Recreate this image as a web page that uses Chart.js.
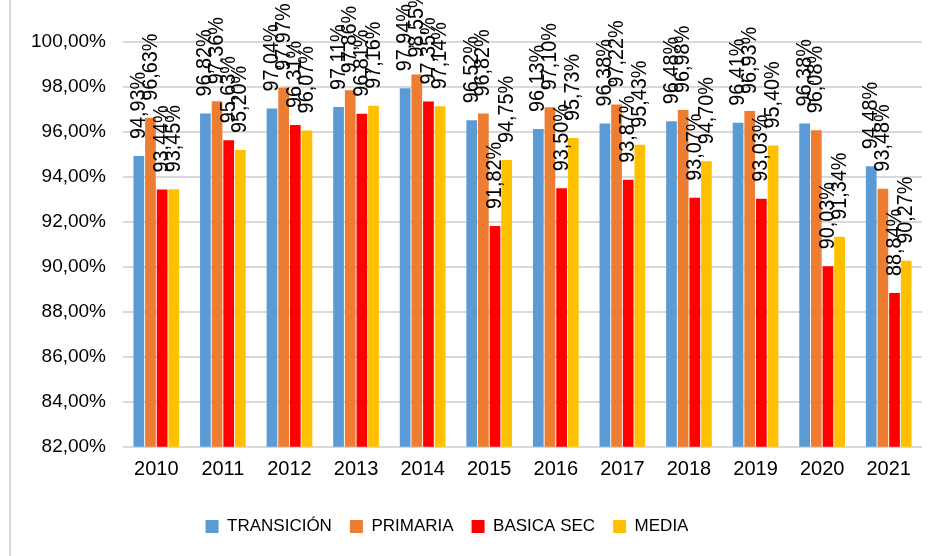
<!DOCTYPE html>
<html>
<head>
<meta charset="utf-8">
<script src="https://cdn.jsdelivr.net/npm/chart.js@4/dist/chart.umd.min.js"></script>
<style>
  html, body { margin: 0; padding: 0; background: #fff; }
  #wrap { position: relative; width: 935px; height: 556px; }
  #edge { position: absolute; left: 9px; top: 0; width: 2px; height: 556px; background: #d9d9d9; }
</style>
</head>
<body>
<div id="wrap">
  <div id="edge"></div>
  <canvas id="chart" width="935" height="556"></canvas>
</div>
<script>
const years = ["2010", "2011", "2012", "2013", "2014", "2015", "2016", "2017", "2018", "2019", "2020", "2021"];
const transicion = [94.93, 96.82, 97.04, 97.11, 97.94, 96.52, 96.13, 96.38, 96.48, 96.41, 96.38, 94.48];
const primaria = [96.63, 97.36, 97.97, 97.86, 98.55, 96.82, 97.10, 97.22, 96.98, 96.93, 96.08, 93.48];
const basicaSec = [93.44, 95.63, 96.31, 96.81, 97.35, 91.82, 93.50, 93.87, 93.07, 93.03, 90.03, 88.84];
const media = [93.45, 95.20, 96.07, 97.16, 97.14, 94.75, 95.73, 95.43, 94.70, 95.40, 91.34, 90.27];

const fontFamily = "'Liberation Sans', Arial, sans-serif";
const pct = v => v.toFixed(2).replace(".", ",") + "%";

// vertical value labels above every bar (a bit condensed, like the original)
const barLabels = {
    id: "barLabels",
    afterDatasetsDraw(chart) {
        const ctx = chart.ctx;
        ctx.save();
        ctx.fillStyle = "#000";
        ctx.font = "22px " + fontFamily;
        ctx.textAlign = "left";
        ctx.textBaseline = "middle";
        chart.data.datasets.forEach((ds, i) => {
            chart.getDatasetMeta(i).data.forEach((bar, j) => {
                ctx.save();
                ctx.translate(bar.x, bar.y - 17);
                ctx.rotate(-Math.PI / 2);
                ctx.scale(0.9, 1);
                ctx.fillText(pct(ds.data[j]), 0, 0);
                ctx.restore();
            });
        });
        ctx.restore();
    },
};

// the legend row sits a little left of centre in the original
const legendShift = {
    id: "legendShift",
    afterLayout(chart) {
        chart.legend.left -= 21;
        chart.legend.right -= 21;
    },
};

new Chart(document.getElementById("chart"), {
    type: "bar",
    data: {
        labels: years,
        datasets: [
            { label: "TRANSICIÓN", data: transicion, backgroundColor: "#5B9BD5" },
            { label: "PRIMARIA", data: primaria, backgroundColor: "#ED7D31" },
            { label: "BASICA SEC", data: basicaSec, backgroundColor: "#FF0000" },
            { label: "MEDIA", data: media, backgroundColor: "#FFC000" },
        ],
    },
    options: {
        responsive: false,
        animation: false,
        layout: { padding: { top: 42, right: 13, left: 14, bottom: 11 } },
        datasets: { bar: { categoryPercentage: 0.7, barPercentage: 0.92 } },
        scales: {
            x: {
                grid: { display: false },
                border: { display: false },
                ticks: { color: "#000", font: { family: fontFamily, size: 20 } },
            },
            y: {
                min: 82,
                max: 100,
                border: { display: false },
                grid: { color: "#d9d9d9", lineWidth: 2, drawTicks: false },
                ticks: {
                    stepSize: 2,
                    padding: 17,
                    color: "#000",
                    font: { family: fontFamily, size: 19 },
                    callback: v => pct(v),
                },
            },
        },
        plugins: {
            tooltip: { enabled: false },
            legend: {
                position: "bottom",
                // empty title only to open space above the legend row
                title: { display: true, text: " ", padding: 7, font: { size: 1 } },
                labels: {
                    color: "#000",
                    boxWidth: 13,
                    boxHeight: 13,
                    padding: 18,
                    font: { family: fontFamily, size: 17 },
                },
            },
        },
    },
    plugins: [barLabels, legendShift],
});
</script>
</body>
</html>
